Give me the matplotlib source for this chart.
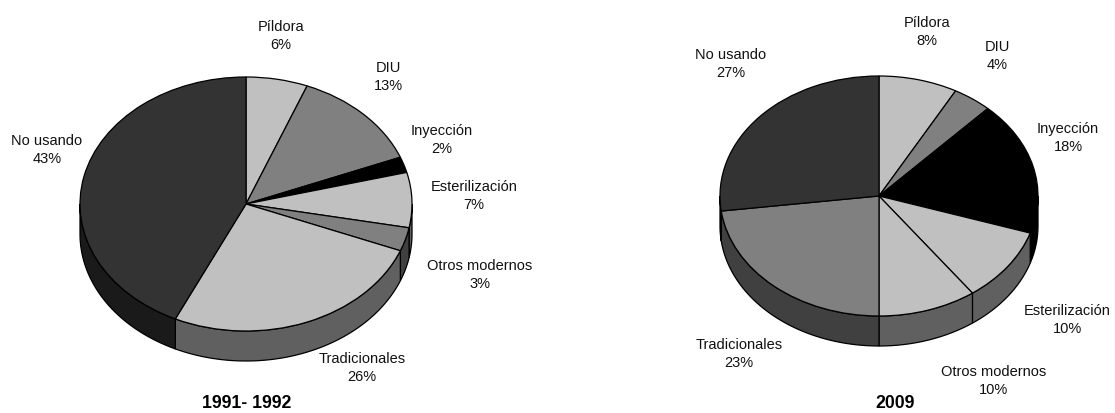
import numpy as np
import matplotlib
matplotlib.use("Agg")
import matplotlib.pyplot as plt

plt.rcParams['font.family'] = ['Liberation Sans', 'DejaVu Sans']

W, H = 1115, 413

categories = ["Píldora", "DIU", "Inyección", "Esterilización", "Otros modernos", "Tradicionales", "No usando"]
values_1991 = [6, 13, 2, 7, 3, 26, 43]
values_2009 = [8, 4, 18, 10, 10, 23, 27]
top_1991 = ["#C0C0C0", "#808080", "#000000", "#C0C0C0", "#808080", "#C0C0C0", "#333333"]
wall_1991 = ["#606060", "#404040", "#000000", "#606060", "#404040", "#606060", "#1A1A1A"]
top_2009 = ["#C0C0C0", "#808080", "#000000", "#C0C0C0", "#C0C0C0", "#808080", "#333333"]
wall_2009 = ["#606060", "#404040", "#000000", "#606060", "#606060", "#404040", "#1A1A1A"]
title_1991 = "1991- 1992"
title_2009 = "2009"

# label centres in pixels
pos_1991 = [(281, 36), (388, 77), (442, 140), (474, 196), (480, 275), (362, 368), (47, 150)]
pos_2009 = [(927, 32), (997, 56), (1068, 138), (1067, 320), (994, 381), (739, 354), (731, 64)]

fig = plt.figure(figsize=(W / 100, H / 100), dpi=100, facecolor="white")


def pie3d(values, tops, walls, cx, cy, rx, ry, depth):
    ax = fig.add_axes([(cx - rx) / W, 1 - (cy + ry) / H, 2 * rx / W, 2 * ry / H])
    ax.pie(values, colors=tops, startangle=90, counterclock=False, radius=1,
           wedgeprops=dict(edgecolor="black", linewidth=0.9, zorder=3))
    ax.set_aspect("auto")
    ax.set_xlim(-1, 1)
    ax.set_ylim(-1, 1)
    d = depth / ry
    edges = np.cumsum([0] + list(values)) / sum(values) * 360
    for a, b, c in zip(edges[:-1], edges[1:], walls):
        lo, hi = max(a, 90), min(b, 270)
        if hi <= lo:
            continue
        t = np.radians(np.linspace(lo, hi, 80))
        x = np.sin(t)
        y = np.cos(t)
        ax.fill(np.r_[x, x[::-1]], np.r_[y, y[::-1] - d], facecolor=c,
                edgecolor="black", linewidth=0.9, zorder=2, clip_on=False)


def labels(values, pos):
    for name, v, (x, y) in zip(categories, values, pos):
        fig.text(x / W, 1 - y / H, f"{name}\n{v}%", ha="center", va="center",
                 fontsize=10.5, linespacing=1.39, color="#111111")


pie3d(values_1991, top_1991, wall_1991, 246, 204, 166, 127, 30)
pie3d(values_2009, top_2009, wall_2009, 879, 196, 159, 120, 30)
labels(values_1991, pos_1991)
labels(values_2009, pos_2009)
fig.text(247 / W, 1 - 404 / H, title_1991, ha="center", va="center", fontsize=12.7, fontweight="bold")
fig.text(895 / W, 1 - 404 / H, title_2009, ha="center", va="center", fontsize=12.7, fontweight="bold")

fig.savefig("out.png", dpi=100)
